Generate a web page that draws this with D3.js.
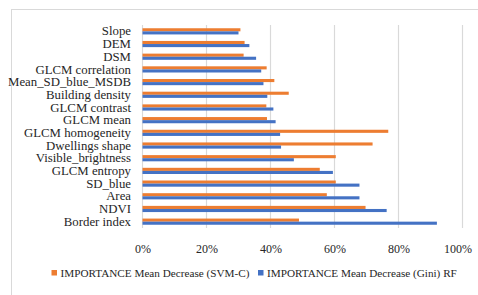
<!DOCTYPE html>
<html>
<head>
<meta charset="utf-8">
<script src="https://cdn.jsdelivr.net/npm/d3@7"></script>
<style>
  body { margin: 0; background: #fff; }
  svg { display: block; }
</style>
</head>
<body>
<div id="chart"></div>
<script>
// categories, top to bottom as drawn
const categories = ['Slope', 'DEM', 'DSM', 'GLCM correlation', 'Mean_SD_blue_MSDB',
  'Building density', 'GLCM contrast', 'GLCM mean', 'GLCM homogeneity', 'Dwellings shape',
  'Visible_brightness', 'GLCM entropy', 'SD_blue', 'Area', 'NDVI', 'Border index'];

// importance values (fraction of 1)
const svmValues = [0.306, 0.319, 0.316, 0.388, 0.412, 0.457, 0.387, 0.389, 0.768, 0.719,
  0.604, 0.554, 0.604, 0.576, 0.697, 0.489];
const giniValues = [0.300, 0.334, 0.355, 0.371, 0.378, 0.390, 0.409, 0.416, 0.430, 0.433,
  0.473, 0.595, 0.678, 0.678, 0.763, 0.920];

const seriesNames = ['IMPORTANCE Mean Decrease (SVM-C)', 'IMPORTANCE Mean Decrease (Gini) RF'];
const seriesColors = ['#ED7D31', '#4472C4'];
const tickValues = [0, 0.2, 0.4, 0.6, 0.8, 1.0];

const FONT = '"Liberation Serif"';

const w = 478, h = 295;
const margin = { top: 25, right: 16, bottom: 67, left: 142.5 };
const innerWidth = w - margin.left - margin.right;
const innerHeight = h - margin.top - margin.bottom;

const svg = d3.select('#chart').append('svg')
  .attr('width', w)
  .attr('height', h);

// chart frame
svg.append('rect')
  .attr('x', 11.5).attr('y', 9.5)
  .attr('width', w + 10).attr('height', h + 10)
  .attr('fill', 'none')
  .attr('stroke', '#d9d9d9')
  .attr('stroke-width', 1);

const g = svg.append('g')
  .attr('transform', `translate(${margin.left},${margin.top})`);

const xScale = d3.scaleLinear().domain([0, 1]).range([0, 320]);

const yScale = d3.scaleBand()
  .domain(categories)
  .range([0, innerHeight]);

const subScale = d3.scaleBand()
  .domain([0, 1])
  .range([0, yScale.bandwidth()])
  .paddingOuter(1.05);

// gridlines
g.selectAll('line.grid')
  .data(tickValues)
  .enter()
  .append('line')
  .attr('class', 'grid')
  .attr('x1', d => xScale(d)).attr('x2', d => xScale(d))
  .attr('y1', 0).attr('y2', innerHeight)
  .attr('stroke', '#d9d9d9')
  .attr('stroke-width', 1.2);

// bars
const rows = categories.map((c, i) => ({ cat: c, vals: [svmValues[i], giniValues[i]] }));

const rowG = g.selectAll('g.row')
  .data(rows)
  .enter()
  .append('g')
  .attr('class', 'row')
  .attr('transform', d => `translate(0,${yScale(d.cat)})`);

rowG.selectAll('rect')
  .data(d => d.vals.map((v, k) => ({ v, k })))
  .enter()
  .append('rect')
  .attr('x', 0)
  .attr('y', d => subScale(d.k))
  .attr('width', d => xScale(d.v))
  .attr('height', subScale.bandwidth())
  .attr('fill', d => seriesColors[d.k]);

// y axis labels
const yAxisG = g.append('g')
  .call(d3.axisLeft(yScale).tickSize(0).tickPadding(11.5));
yAxisG.select('.domain').remove();
yAxisG.selectAll('text')
  .style('font-family', FONT)
  .style('font-size', '12.8px')
  .style('fill', '#262626');

// x axis labels
const xAxisG = g.append('g')
  .attr('transform', `translate(0,${innerHeight})`)
  .call(d3.axisBottom(xScale).tickValues(tickValues).tickFormat(d3.format('.0%')).tickSize(0).tickPadding(16));
xAxisG.select('.domain').remove();
xAxisG.selectAll('text')
  .style('font-family', FONT)
  .style('font-size', '12px')
  .style('fill', '#262626')
  .attr('dx', d => d === 1 ? -5 : 0);

// legend
const legendX = [51.5, 258];
const legend = svg.selectAll('g.legend')
  .data(seriesNames)
  .enter()
  .append('g')
  .attr('class', 'legend')
  .attr('transform', (d, i) => `translate(${legendX[i]},${273})`);

legend.append('rect')
  .attr('x', 0).attr('y', -3)
  .attr('width', 5.5).attr('height', 5.5)
  .attr('fill', (d, i) => seriesColors[i]);

legend.append('text')
  .attr('x', 9)
  .attr('y', 0)
  .attr('dy', '0.35em')
  .style('font-family', FONT)
  .style('font-size', '11.2px')
  .style('fill', '#262626')
  .text(d => d);
</script>
</body>
</html>
